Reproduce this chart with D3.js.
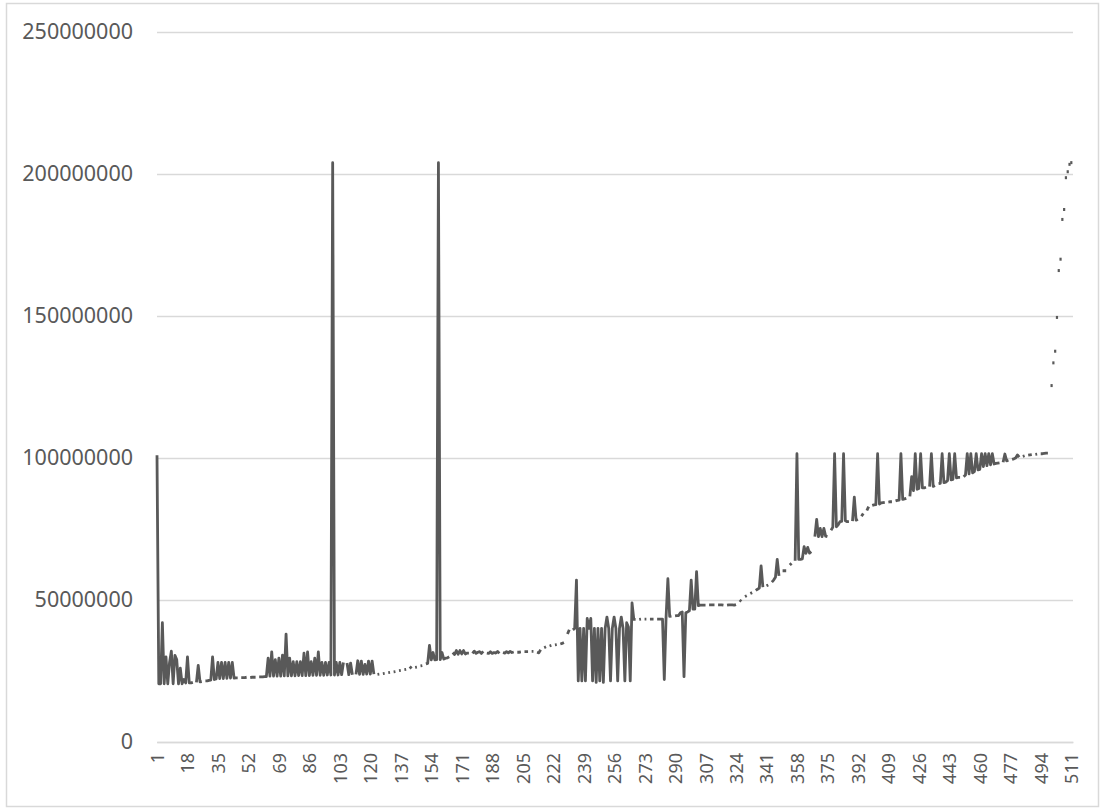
<!DOCTYPE html>
<html>
<head>
<meta charset="utf-8">
<script src="https://cdn.jsdelivr.net/npm/d3@7"></script>
<style>
  body { margin: 0; background: #ffffff; }
  text { font-family: "Noto Sans", "Open Sans", sans-serif; fill: #595959; }
</style>
</head>
<body>
<div id="canvas"></div>
<script>
// Setting dimensions

let W = 1103, H = 812;
let margin = {top: 32, right: 30, bottom: 70, left: 157};
let width = W - margin.left - margin.right;
let height = H - margin.top - margin.bottom;

// Values in millions, one per category (null = no value, the line breaks there)

let values = [
  101, 20.5, 20.5, 42, 20.5, 30, 20.5, 28, 32, 20.5,
  30.5, 29, 20.5, 26, 20.5, 22, 20.8, 30, 20.8, 20.8,
  21, null, 21, 27, 21.2, 21.3, null, 21.5, 21.5, 21.7,
  21.8, 30, 22, 22.2, 28, 22.3, 28, 22.3, 28, 22.4,
  28, 22.5, 28, 22.5, 22.6, 22.6, null, 22.7, 22.7, 22.7,
  22.8, null, 22.7, 22.8, 22.8, 22.8, null, 22.9, 22.9, 22.9,
  23, 23, 29.5, 23.2, 31.7, 23.2, 29, 23.2, 29.5, 23.2,
  30.6, 23.3, 38, 23.3, 29.5, 23.3, 28.3, 23.3, 28.3, 23.4,
  28.3, 23.4, 31.3, 23.4, 31.7, 23.4, 28.3, 23.5, 29.5, 23.5,
  31.7, 23.5, 28, 23.5, 28, 23.6, 28, 23.6, 204, 23.6,
  28, 23.6, 28, 23.7, 28, null, 27.8, 23.7, 27.8, 23.7,
  null, 23.8, 28.6, 23.8, 28.5, 23.8, 27.3, 23.9, 28.5, 23.9,
  28.5, 23.9, null, 23.8, 23.9, null, 24.1, 24.2, null, 24.4,
  24.5, null, 24.7, 24.8, null, 25.1, 25.2, null, 25.5, 25.6,
  null, 26.6, 25.9, null, 26.3, 26.4, null, 26.8, 26.9, null,
  27.5, 27.7, 34, 28.9, 31.5, 28.9, 29, 204, 29, 31.5,
  29.2, 29.5, 29.6, 30, null, 31.5, 30.8, 32.2, 30.9, 32.2,
  31, 32.2, 31, 31.3, 31.3, null, 31.2, 32, 31.2, 31.6,
  31.8, 31.2, 31.9, null, 31.3, 31.2, 31.8, 31.2, 31.5, 31.3,
  31.9, 31.2, null, 31.5, 31.3, 31.8, 31.4, 31.9, 31.5, 31.7,
  null, 31.6, 31.6, 31.7, null, 31.8, 31.8, 31.8, null, 31.9,
  31.9, null, 31.6, 31.4, 32.5, null, 33.2, 33.5, null, 33.8,
  34, null, 34.2, 34.3, null, 34.5, 34.7, 35, null, 38,
  39.5, null, 39.5, 40, 57, 21.5, 40, 21.5, 40, 21.5,
  43.5, 40, 43.5, 21.5, 40, 21, 40, 21.5, 40, 21,
  40, 44, 40, 21.5, 40, 44, 40, 21.5, 40, 44,
  40, 21.5, 42, 40.5, 21.5, 49, 43.2, 43.2, null, 43.2,
  43.3, null, 43.3, 43.3, null, 43.3, 43.3, 43.3, null, 43.3,
  43.3, 43.3, 43.3, 22, 44, 57.5, 44.2, 44.3, null, 44.4,
  44.5, 44.5, 45.5, 45.8, 23, 45.5, 45.8, 46.2, 57, 46.8,
  46.8, 60, 48, 48.2, 48.2, 48.2, 48.2, null, 48.3, 48.3,
  48.3, 48.3, null, 48.3, 48.3, 48.3, 48.2, null, 48.2, 48.3,
  48.3, 48.3, 48.2, 48.4, null, 50, 49.5, null, 51.2, 51.5,
  null, 52.3, 52.6, null, 53.4, 53.8, 54.2, 62, 54.5, null,
  55, 55.3, null, 56.3, 57, 58, 64.3, 58.5, null, 60.3,
  60.3, 60.3, null, 62.3, 62.9, null, 63.8, 101.5, 64.3, 64.3,
  64.5, 68.8, 66.4, 68.5, 66.5, 67, null, 72.3, 78.4, 72.3,
  75.2, 72.3, 75.2, 72.5, 72.3, null, 74.6, 75.6, 101.5, 75.8,
  76.5, 77.6, 77.7, 101.5, 77.9, 77.6, 77.6, null, 77.8, 86.2,
  78.1, 78.4, null, 79.5, 80.5, null, 81.5, 82.9, null, 83.3,
  83.5, 83.6, 101.5, 83.8, 84.2, 84.3, 84.4, null, 84.5, 84.6,
  84.6, null, 84.9, 85.1, 85.2, 101.5, 85.4, 85.6, 85.8, null,
  86.5, 93.4, 88.5, 101.5, 89, 89.3, 101.5, 89.5, 89.5, 89.7,
  null, 89.9, 101.5, 90, 90.3, null, 91, 91.1, 101.5, 91.3,
  91.5, 92, 101.5, 92.3, 92.5, 101.5, 93, 93.2, 93.2, null,
  93.4, 94, 101.5, 94.4, 101.5, 94.8, 95.2, 101.5, 95.8, 96,
  101.5, 97, 101.5, 97.3, 101.5, 97.6, 101.5, 97.9, 98.1, 98.2,
  98.3, null, 98.5, 101.4, 99, 99.2, null, 99.5, 99.7, 100,
  101.1, 100.3, null, 100.6, 100.8, null, 101, 101.1, 101.2, null,
  101.3, 101.4, null, 101.5, 101.5, 101.6, 101.7, 101.7
];

// Last categories, values shown as loose points (millions)

let tailCats = [500, 501, 502, 503, 504, 505, 506, 507, 508, 509, 510, 511];
let tailVals = [125.5, 133.5, 137.6, 149.5, 166, 170, 184, 187.5, 198.7, 200.8, 203.4, 204];

let nCats = 512;
let categories = d3.range(1, nCats + 1);
let xTickLabels = [1, 18, 35, 52, 69, 86, 103, 120, 137, 154, 171, 188, 205, 222, 239, 256,
  273, 290, 307, 324, 341, 358, 375, 392, 409, 426, 443, 460, 477, 494, 511];
let yTicks = [0, 50000000, 100000000, 150000000, 200000000, 250000000];

// Drawing area

let svg = d3.select("#canvas")
    .append("svg")
    .attr("width", W)
    .attr("height", H);

svg.append("rect")
    .attr("x", 6.5)
    .attr("y", 3.5)
    .attr("width", 1092)
    .attr("height", 803)
    .style("fill", "#ffffff")
    .style("stroke", "#d9d9d9")
    .style("stroke-width", 1.5);

let g = svg.append("g")
    .attr("transform", "translate(" + margin.left + ", " + margin.top + ")");

// Scales

let xScale = d3.scalePoint()
    .domain(categories)
    .range([0, width]);

let yScale = d3.scaleLinear()
    .domain([0, 250000000])
    .range([height, 0]);

// Gridlines and y labels

let yAxis = g.append("g")
    .call(d3.axisLeft(yScale)
        .tickValues(yTicks)
        .tickSize(-width)
        .tickPadding(24)
        .tickFormat(d3.format("d")));

yAxis.select(".domain").remove();
yAxis.selectAll(".tick line")
    .style("stroke", "#d9d9d9")
    .style("stroke-width", 1.5);
yAxis.selectAll(".tick text")
    .style("font-size", "21.5px")
    .style("fill", "#595959");

// x axis

let xAxis = g.append("g")
    .attr("transform", "translate(0, " + height + ")")
    .call(d3.axisBottom(xScale)
        .tickValues(xTickLabels)
        .tickSize(0));

xAxis.select(".domain")
    .style("stroke", "#d9d9d9")
    .style("stroke-width", 1.5);
xAxis.selectAll(".tick text")
    .attr("transform", "rotate(-90)")
    .attr("x", -11)
    .attr("y", 0)
    .attr("dy", "0.36em")
    .style("text-anchor", "end")
    .style("font-size", "18px")
    .style("fill", "#595959");

// The series

let data = values.map((v, i) => ({cat: categories[i], v: v == null ? null : v * 1e6}));

g.append("path")
    .datum(data)
    .style("fill", "none")
    .style("stroke", "#595959")
    .style("stroke-width", 2.8)
    .style("stroke-linejoin", "round")
    .attr("d", d3.line()
        .defined((d) => d.v != null)
        .x((d) => xScale(d.cat))
        .y((d) => yScale(d.v))
    );

g.selectAll(".tail")
    .data(tailCats.map((c, i) => ({cat: c, v: tailVals[i] * 1e6})))
    .enter()
    .append("rect")
    .attr("class", "tail")
    .attr("x", (d) => xScale(d.cat) - 1)
    .attr("y", (d) => yScale(d.v) - 1.5)
    .attr("width", 2.2)
    .attr("height", 3)
    .style("fill", "#595959");
</script>
</body>
</html>
